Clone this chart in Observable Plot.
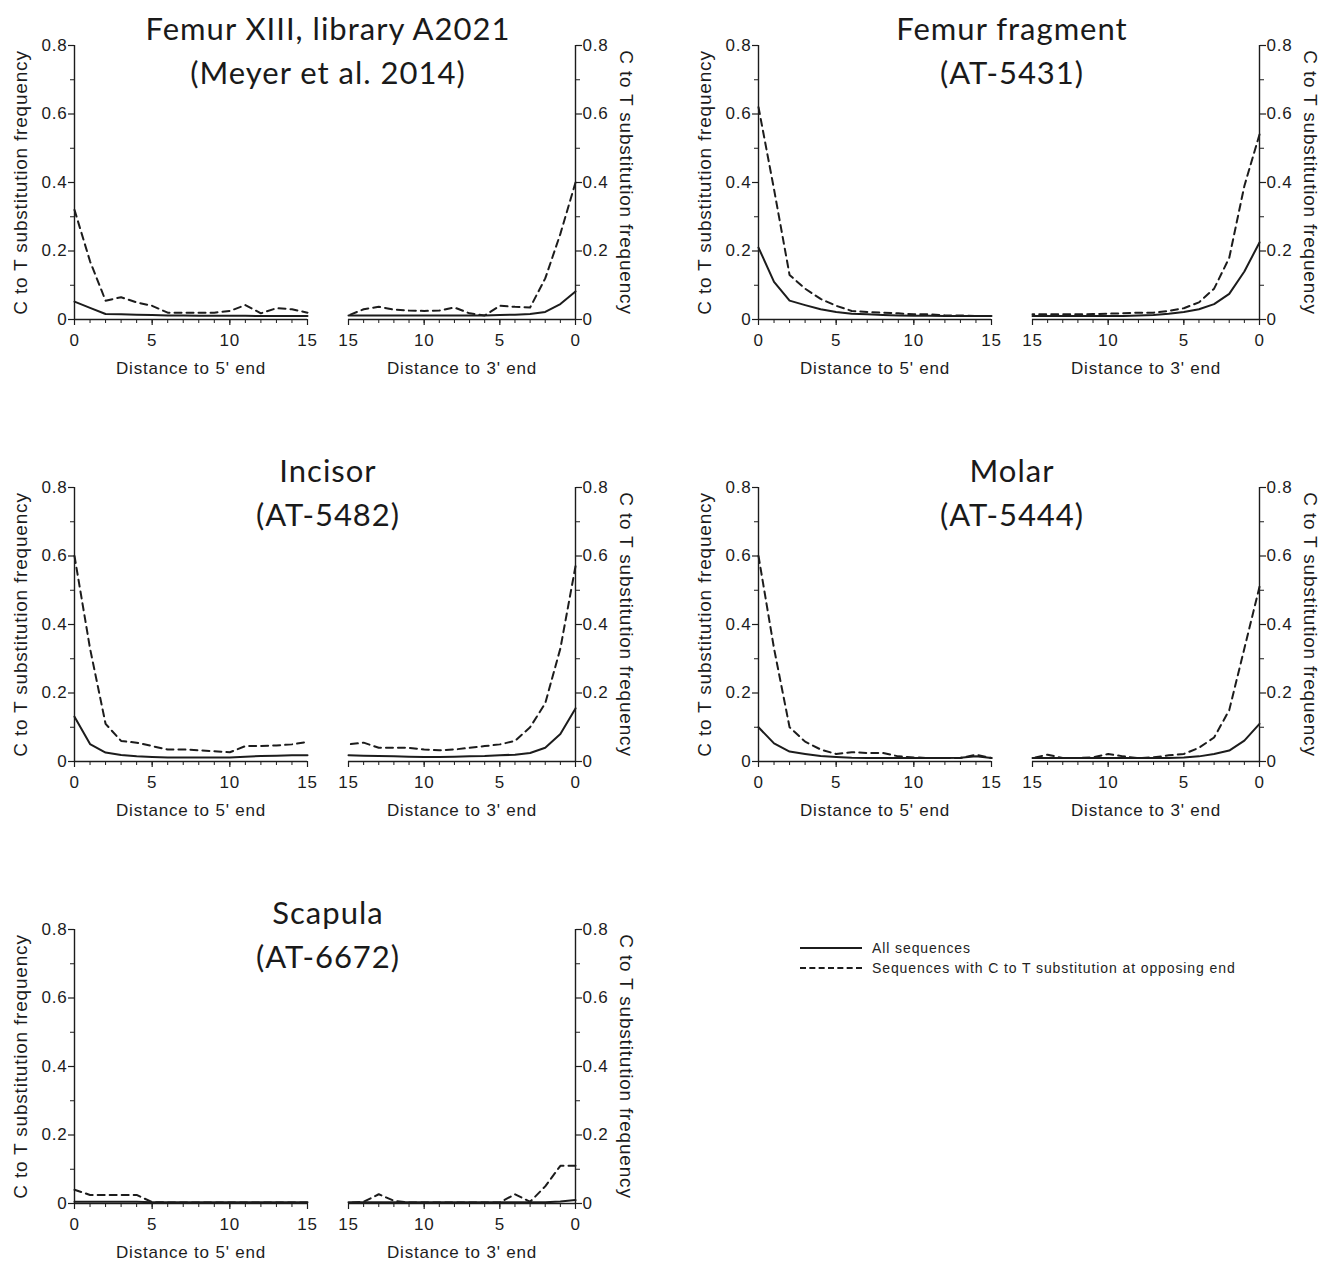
<!DOCTYPE html>
<html>
<head>
<meta charset="utf-8">
<script src="https://cdn.jsdelivr.net/npm/d3@7"></script>
<script src="https://cdn.jsdelivr.net/npm/@observablehq/plot@0.6"></script>
<style>
  html, body { margin: 0; padding: 0; background: #fff; }
  #wrap { position: relative; width: 1336px; height: 1265px; overflow: hidden; }
  .sub { position: absolute; }
  .sub text { letter-spacing: 0.8px; }
  .title { position: absolute; width: 480px; text-align: center; font-family: Lato, "Open Sans", sans-serif; font-size: 31px; letter-spacing: 1px; color: #1a1a1a; line-height: 44px; white-space: nowrap; }
  .legend { position: absolute; left: 800px; top: 938px; font-family: "Liberation Sans", Arial, sans-serif; font-size: 14px; letter-spacing: 0.9px; color: #222; }
  .legend .row { display: flex; align-items: center; height: 20px; }
  .legend .sw { width: 62px; height: 0; margin-right: 10px; }
</style>
</head>
<body>
<div id="wrap"></div>
<script>
// ---------------- DATA ----------------
const positions = [0,1,2,3,4,5,6,7,8,9,10,11,12,13,14,15];
const yTicks = [0, 0.2, 0.4, 0.6, 0.8];
const yMinorTicks = [0.1, 0.3, 0.5, 0.7];
const xTicks = [0, 5, 10, 15];
const seriesNames = ["All sequences", "Sequences with C to T substitution at opposing end"];
const yLabel = "C to T substitution frequency";
const xLabel5 = "Distance to 5' end";
const xLabel3 = "Distance to 3' end";

const panelTitles = [
  ["Femur XIII, library A2021", "(Meyer et al. 2014)"],
  ["Femur fragment", "(AT-5431)"],
  ["Incisor", "(AT-5482)"],
  ["Molar", "(AT-5444)"],
  ["Scapula", "(AT-6672)"]
];

// values at distance 0..15 from each end
const femurXIII_5_all = [0.052,0.034,0.016,0.015,0.014,0.013,0.012,0.012,0.011,0.011,0.011,0.011,0.010,0.010,0.010,0.010];
const femurXIII_5_opp = [0.32,0.17,0.055,0.065,0.05,0.04,0.02,0.02,0.02,0.02,0.025,0.042,0.018,0.033,0.03,0.02];
const femurXIII_3_all = [0.082,0.045,0.022,0.016,0.014,0.013,0.012,0.012,0.012,0.012,0.012,0.012,0.012,0.012,0.012,0.012];
const femurXIII_3_opp = [0.40,0.25,0.12,0.035,0.037,0.04,0.012,0.018,0.035,0.026,0.025,0.026,0.029,0.037,0.03,0.012];

const fragment_5_all = [0.21,0.11,0.055,0.042,0.03,0.022,0.017,0.015,0.013,0.012,0.011,0.011,0.010,0.010,0.010,0.010];
const fragment_5_opp = [0.62,0.38,0.13,0.09,0.06,0.04,0.025,0.022,0.02,0.018,0.015,0.015,0.012,0.012,0.010,0.010];
const fragment_3_all = [0.225,0.14,0.075,0.045,0.03,0.022,0.017,0.013,0.012,0.010,0.010,0.010,0.010,0.010,0.010,0.010];
const fragment_3_opp = [0.54,0.39,0.18,0.09,0.05,0.033,0.025,0.02,0.02,0.018,0.017,0.016,0.015,0.015,0.015,0.015];

const incisor_5_all = [0.131,0.051,0.026,0.019,0.015,0.013,0.012,0.012,0.012,0.012,0.012,0.014,0.016,0.017,0.018,0.018];
const incisor_5_opp = [0.60,0.33,0.11,0.06,0.055,0.045,0.035,0.035,0.033,0.03,0.027,0.045,0.045,0.047,0.05,0.057];
const incisor_3_all = [0.155,0.08,0.04,0.025,0.02,0.018,0.016,0.015,0.014,0.013,0.013,0.014,0.015,0.016,0.017,0.018];
const incisor_3_opp = [0.57,0.33,0.17,0.10,0.06,0.05,0.045,0.04,0.035,0.033,0.035,0.04,0.04,0.04,0.055,0.05];

const molar_5_all = [0.10,0.053,0.029,0.022,0.016,0.013,0.011,0.010,0.010,0.010,0.010,0.010,0.010,0.011,0.015,0.010];
const molar_5_opp = [0.60,0.33,0.10,0.058,0.035,0.022,0.027,0.025,0.025,0.015,0.012,0.010,0.010,0.010,0.02,0.010];
const molar_3_all = [0.11,0.061,0.032,0.022,0.015,0.012,0.010,0.010,0.010,0.010,0.010,0.010,0.010,0.010,0.010,0.010];
const molar_3_opp = [0.51,0.33,0.15,0.07,0.04,0.022,0.018,0.012,0.010,0.015,0.022,0.012,0.010,0.010,0.02,0.010];

const scapula_5_all = [0.005,0.005,0.005,0.005,0.005,0.004,0.004,0.004,0.004,0.004,0.004,0.004,0.004,0.004,0.004,0.004];
const scapula_5_opp = [0.04,0.025,0.025,0.025,0.025,0.004,0.003,0.003,0.003,0.003,0.003,0.003,0.003,0.003,0.003,0.003];
const scapula_3_all = [0.01,0.006,0.004,0.004,0.004,0.004,0.004,0.004,0.004,0.004,0.004,0.004,0.004,0.004,0.004,0.004];
const scapula_3_opp = [0.11,0.11,0.05,0.005,0.027,0.003,0.003,0.003,0.003,0.003,0.003,0.003,0.008,0.027,0.005,0.002];

const panelData = [
  [femurXIII_5_all, femurXIII_5_opp, femurXIII_3_all, femurXIII_3_opp],
  [fragment_5_all, fragment_5_opp, fragment_3_all, fragment_3_opp],
  [incisor_5_all, incisor_5_opp, incisor_3_all, incisor_3_opp],
  [molar_5_all, molar_5_opp, molar_3_all, molar_3_opp],
  [scapula_5_all, scapula_5_opp, scapula_3_all, scapula_3_opp]
];

// ---------------- LAYOUT ----------------
const panelOrigins = [[0,0],[684,0],[0,442],[684,442],[0,884]];
const INK = "#1c1c1c";
const wrap = document.getElementById("wrap");

function subPlot(all, opp, side) {
  const left = side === "5";
  const mTop = 15, mBottom = 64, h = 274;
  return Plot.plot({
    width: left ? 74 + 233 + 14 : 10 + 227 + 70,
    height: mTop + h + mBottom,
    marginLeft: left ? 74 : 10,
    marginRight: left ? 14 : 70,
    marginTop: mTop,
    marginBottom: mBottom,
    x: {domain: left ? [0, 15] : [15, 0]},
    y: {domain: [0, 0.8]},
    style: {fontFamily: '"Liberation Sans", Arial, sans-serif', fontSize: "17px", color: INK, background: "transparent", overflow: "visible"},
    marks: [
      Plot.axisY({anchor: left ? "left" : "right", ticks: yMinorTicks, tickSize: 4, tickFormat: () => "", label: null, stroke: INK}),
      Plot.axisY({anchor: left ? "left" : "right", ticks: yTicks, tickSize: 6, tickPadding: 1, tickFormat: d => String(d), label: null,
                  fontSize: 17, stroke: INK, strokeWidth: 1.2}),
      Plot.axisX({ticks: positions, tickSize: 4, tickFormat: () => "", label: null, stroke: INK}),
      Plot.axisX({ticks: xTicks, tickSize: 6, tickPadding: 8, tickFormat: d => String(d), label: null,
                  fontSize: 17, stroke: INK, strokeWidth: 1.2}),
      Plot.text([left ? xLabel5 : xLabel3], {frameAnchor: "bottom", dy: 54, text: d => d, fontSize: 17, fill: INK}),
      Plot.text([yLabel], {frameAnchor: left ? "left" : "right", rotate: left ? -90 : 90, dx: left ? -54 : 51,
                           textAnchor: "middle", lineAnchor: "middle", text: d => d, fontSize: 19, fill: INK}),
      Plot.ruleY([0], {stroke: INK, strokeWidth: 1.4}),
      Plot.ruleX([0], {stroke: INK, strokeWidth: 1.4}),
      Plot.lineY(opp, {x: positions, stroke: INK, strokeWidth: 2, strokeDasharray: "7,5"}),
      Plot.lineY(all, {x: positions, stroke: INK, strokeWidth: 2})
    ]
  });
}

panelData.forEach((d, i) => {
  const [ox, oy] = panelOrigins[i];
  const a = subPlot(d[0], d[1], "5");
  a.classList.add("sub");
  a.style.left = ox + "px";
  a.style.top = (oy + 30) + "px";
  wrap.appendChild(a);
  const b = subPlot(d[2], d[3], "3");
  b.classList.add("sub");
  b.style.left = (ox + 338) + "px";
  b.style.top = (oy + 30) + "px";
  wrap.appendChild(b);
  const t = document.createElement("div");
  t.className = "title";
  t.style.left = (ox + 328 - 240) + "px";
  t.style.top = (oy + 6) + "px";
  t.innerHTML = panelTitles[i][0] + "<br>" + panelTitles[i][1];
  wrap.appendChild(t);
});

const lg = document.createElement("div");
lg.className = "legend";
lg.innerHTML =
  '<div class="row"><span class="sw" style="border-top:2px solid ' + INK + '"></span>' + seriesNames[0] + '</div>' +
  '<div class="row"><span class="sw" style="border-top:2px dashed ' + INK + '"></span>' + seriesNames[1] + '</div>';
wrap.appendChild(lg);
</script>
</body>
</html>
